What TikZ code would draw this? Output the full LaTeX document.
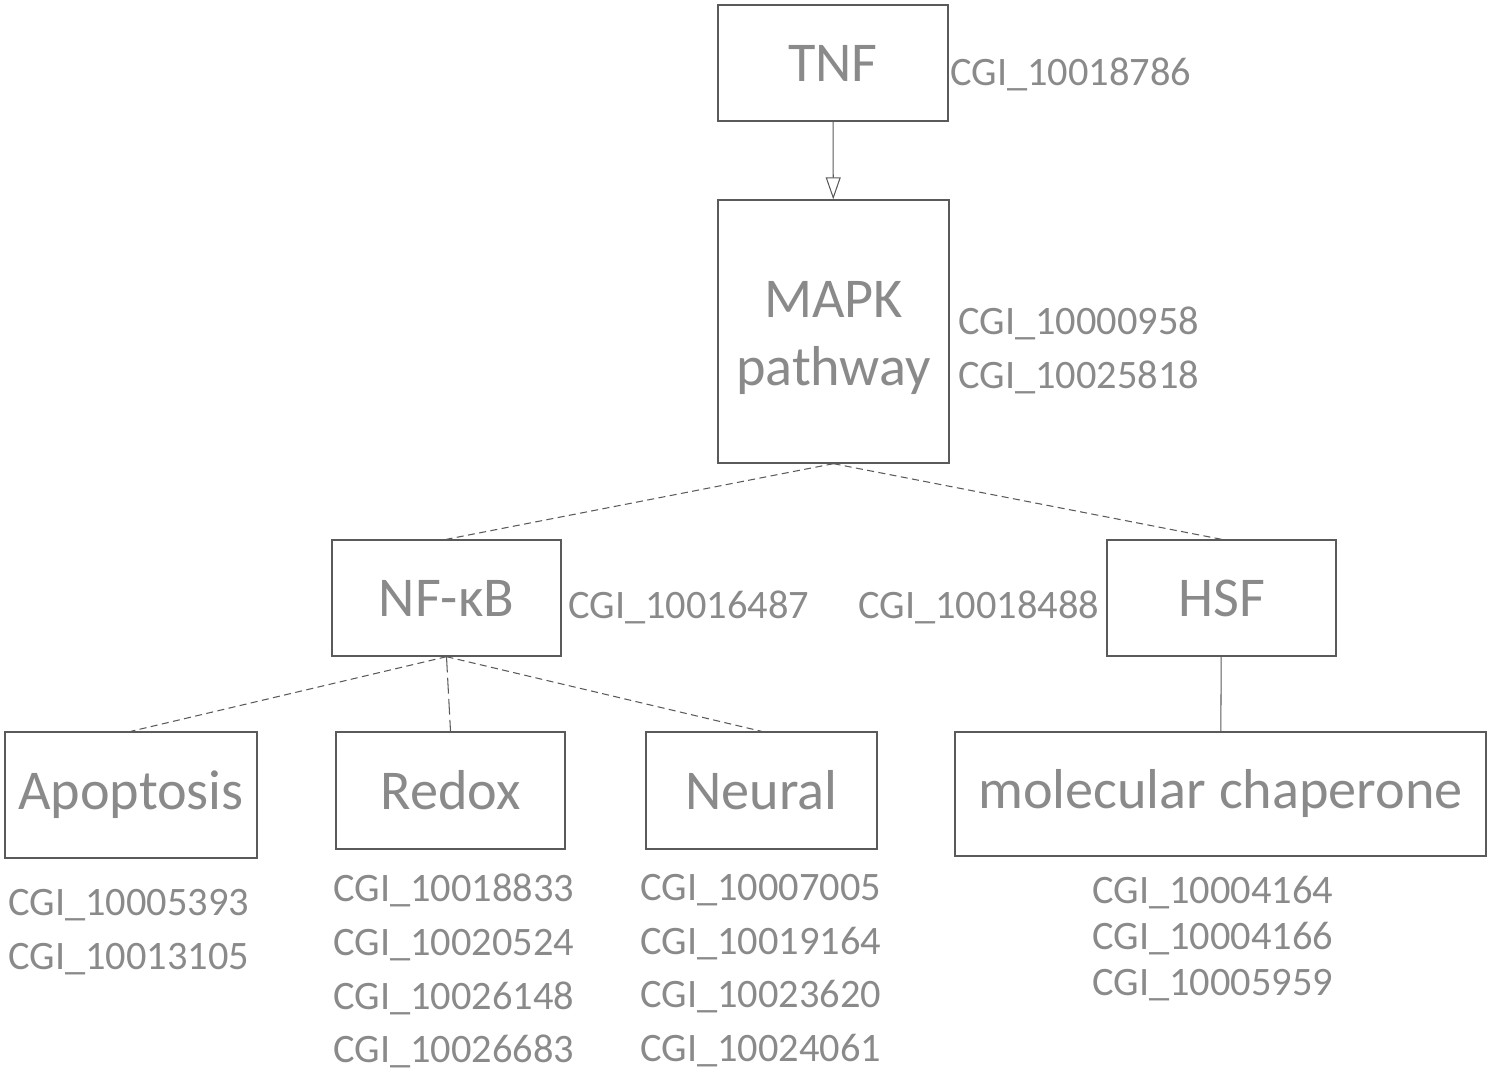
\documentclass[tikz,border=0pt]{standalone}
\usepackage{fontspec}
\setmainfont{Carlito}
\usetikzlibrary{arrows.meta}
\definecolor{linegray}{HTML}{5A5A5A}
\definecolor{textgray}{HTML}{8A8A8A}

\begin{document}
\begin{tikzpicture} [
          x=0.02cm, y=-0.02cm,
          box/.style = {draw=linegray, line width=0.8pt, text=textgray, inner sep=0pt,
                        font=\fontsize{32}{39}\selectfont, align=center},
          gene/.style = {text=textgray, inner sep=0pt, font=\fontsize{23}{30.5}\selectfont, align=left},
          link/.style = {draw=linegray, line width=0.6pt},
          shortdash/.style = {dash pattern=on 4pt off 2.5pt},
          longdash/.style = {dash pattern=on 9pt off 3pt}
          ]
          \useasboundingbox (0,0) rectangle (1500,1074);
          % main chain
          \node[box, minimum width=4.6cm, minimum height=2.32cm] (tnf) at (833,63) {TNF};
          \node[box, minimum width=4.62cm, minimum height=5.26cm] (mapk) at (833.5,331.5) {\rule{0pt}{28pt}MAPK\\pathway};
          \node[box, minimum width=4.58cm, minimum height=2.32cm] (nfkb) at (446.5,598) {NF-κB};
          \node[box, minimum width=4.58cm, minimum height=2.32cm] (hsf) at (1221.5,598) {HSF};
          % targets
          \node[box, minimum width=5.04cm, minimum height=2.52cm] (apop) at (131,795) {Apoptosis};
          \node[box, minimum width=4.58cm, minimum height=2.34cm] (redox) at (450.5,790.5) {Redox};
          \node[box, minimum width=4.62cm, minimum height=2.34cm] (neural) at (761.5,790.5) {Neural};
          \node[box, minimum width=10.62cm, minimum height=2.48cm] (chap) at (1220.5,794) {molecular chaperone};

          % gene ids
          \node[gene, anchor=base west] (tnfid) at (950,86) {CGI\_10018786};
          \node[gene, anchor=north west] (mapkid) at (958,307) {CGI\_10000958\\CGI\_10025818};
          \node[gene, anchor=base west] (nfkbid) at (568,618) {CGI\_10016487};
          \node[gene, anchor=base west] (hsfid) at (858,618) {CGI\_10018488};
          \node[gene, anchor=north west] (apopid) at (8,889) {CGI\_10005393\\CGI\_10013105};
          \node[gene, anchor=north west] (redoxid) at (333,874) {CGI\_10018833\\CGI\_10020524\\CGI\_10026148\\CGI\_10026683};
          \node[gene, anchor=north west] (neuralid) at (640,874) {CGI\_10007005\\CGI\_10019164\\CGI\_10023620\\CGI\_10024061};
          \node[gene, anchor=north west] (chapid) at (1092,876) {CGI\_10004164\\[-4.5pt]CGI\_10004166\\[-4.5pt]CGI\_10005959};

          % connectors
          \draw[link, -{Triangle[open, length=0.44cm, width=0.3cm]}] (tnf) -- (mapk);
          \draw[link, shortdash] (mapk.south) -- (nfkb.north);
          \draw[link, shortdash] (mapk.south) -- (hsf.north);
          \draw[link, shortdash] (nfkb.south) -- (apop.north);
          \draw[link, longdash] (nfkb.south) -- (redox.north);
          \draw[link, shortdash] (nfkb.south) -- (neural.north);
          \draw[link] (hsf) -- (chap);
        \end{tikzpicture}
\end{document}
